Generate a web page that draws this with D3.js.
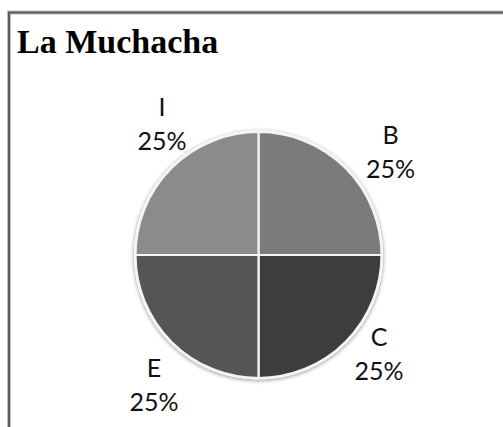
<!DOCTYPE html>
<html>
<head>
<meta charset="utf-8">
<script src="https://cdn.jsdelivr.net/npm/d3@7/dist/d3.min.js"></script>
<style>
  html, body { margin: 0; padding: 0; background: #fff; }
  svg { display: block; }
</style>
</head>
<body>
<script>
// Slice data, clockwise from 12 o'clock
const categories = ["B", "C", "E", "I"];
const values = [25, 25, 25, 25];
const sliceColors = ["#7b7b7b", "#3d3d3d", "#555555", "#8b8b8b"];
const title = "La Muchacha";

const W = 503, H = 427;
const cx = 258.5, cy = 255, R = 123;

// Small per-label adjustments of the outside labels (best-fit placement)
const labelNudge = { B: [17.5, 10], C: [6, -17.5], E: [10, 13], I: [18, -18.5] };

const svg = d3.select("body").append("svg")
  .attr("width", W).attr("height", H);

const defs = svg.append("defs");
const shadow = defs.append("filter").attr("id", "pieShadow")
  .attr("x", "-10%").attr("y", "-10%").attr("width", "120%").attr("height", "120%");
shadow.append("feGaussianBlur").attr("in", "SourceAlpha").attr("stdDeviation", 2);
shadow.append("feOffset").attr("dx", 0).attr("dy", 1).attr("result", "b");
shadow.append("feComponentTransfer").append("feFuncA").attr("type", "linear").attr("slope", 0.45);
const merge = shadow.append("feMerge");
merge.append("feMergeNode");
merge.append("feMergeNode").attr("in", "SourceGraphic");

// Chart frame
svg.append("path")
  .attr("d", `M${9},${H} L${9},${12.5} L${W},${12.5}`)
  .attr("fill", "none").attr("stroke", "#bdbdbd").attr("stroke-width", 4);
svg.append("path")
  .attr("d", `M${9},${H} L${9},${12.5} L${W},${12.5}`)
  .attr("fill", "none").attr("stroke", "#5a5a5a").attr("stroke-width", 2);

// Title
svg.append("text")
  .attr("x", 17).attr("y", 53)
  .attr("font-family", "'Liberation Serif', 'Times New Roman', serif")
  .attr("font-weight", "bold").attr("font-size", 34)
  .attr("fill", "#000")
  .text(title);

const data = categories.map((c, i) => ({ cat: c, value: values[i], color: sliceColors[i] }));
const pie = d3.pie().value(d => d.value).sort(null);
const arcs = pie(data);

const arc = d3.arc().innerRadius(0).outerRadius(R);
const labelArc = d3.arc().innerRadius(162).outerRadius(162);

const g = svg.append("g").attr("transform", `translate(${cx},${cy})`);

// White disc under the slices gives the bright rim and the shadow
g.append("circle").attr("r", R + 1.5).attr("fill", "#fff")
  .attr("filter", "url(#pieShadow)");

g.selectAll("path.slice").data(arcs).enter().append("path")
  .attr("class", "slice")
  .attr("d", arc)
  .attr("fill", d => d.data.color)
  .attr("stroke", "#f4f4f4")
  .attr("stroke-width", 2.2)
  .attr("stroke-linejoin", "round");

const fmt = d3.format(".0%");
const total = d3.sum(values);

const labels = g.selectAll("g.lbl").data(arcs).enter().append("g")
  .attr("class", "lbl")
  .attr("transform", d => {
    const [x, y] = labelArc.centroid(d);
    const n = labelNudge[d.data.cat] || [0, 0];
    return `translate(${x + n[0]},${y + n[1]})`;
  });

labels.append("text")
  .attr("text-anchor", "middle")
  .attr("y", -6)
  .attr("font-family", "Lato, 'Open Sans', sans-serif")
  .attr("font-size", 25).attr("fill", "#111")
  .text(d => d.data.cat);

labels.append("text")
  .attr("text-anchor", "middle")
  .attr("y", 28)
  .attr("font-family", "Lato, 'Open Sans', sans-serif")
  .attr("font-size", 25).attr("fill", "#111")
  .text(d => fmt(d.data.value / total));
</script>
</body>
</html>
